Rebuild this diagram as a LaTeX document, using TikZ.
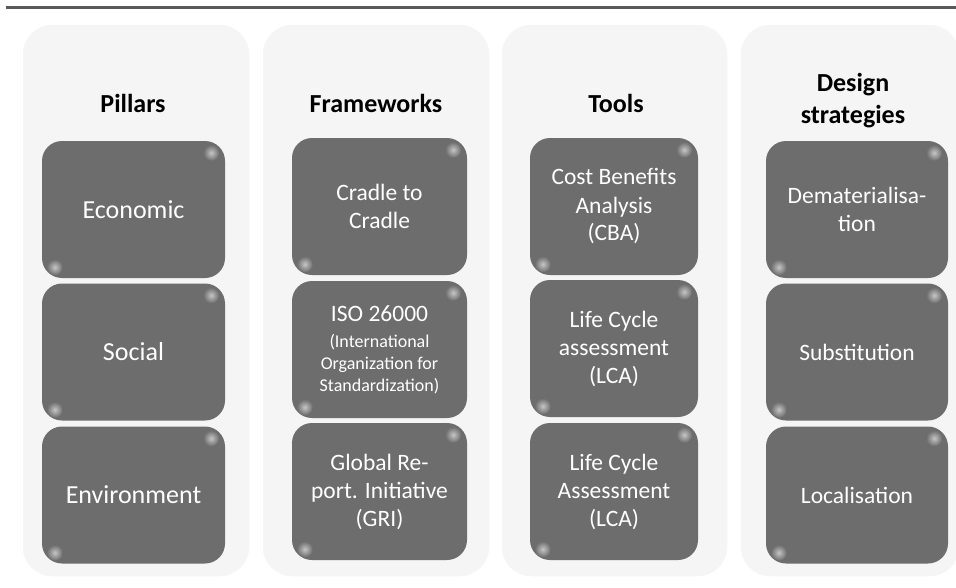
\documentclass[tikz,border=0pt]{standalone}
\usepackage{fontspec}
\setmainfont{Carlito}
\definecolor{colbg}{RGB}{245,245,245}
\definecolor{boxfill}{RGB}{109,109,109}
\definecolor{rulegray}{RGB}{89,89,89}
\begin{document}
\begin{tikzpicture}[x=1pt,y=-1pt,
  colback/.style={fill=colbg, draw=white, line width=1.5pt, rounded corners=30pt, minimum height=553pt, inner sep=0pt},
  darkbox/.style={fill=boxfill, rounded corners=20pt, text=white, align=center, inner sep=0pt, minimum height=137pt, font=\fontsize{23.5}{28}\selectfont},
  bigtxt/.style={font=\fontsize{26}{30}\selectfont},
  smalltxt/.style={font=\fontsize{18}{22}\selectfont},
  title/.style={font=\fontsize{26}{32}\selectfont\bfseries, align=center, inner sep=0pt},
  spot/.style={inner color=gray!45, outer color=boxfill}
]
\useasboundingbox (0,0) rectangle (956,587);
\clip (0,0) rectangle (956,587);
\fill[white] (0,0) rectangle (956,587);
% top rule
\draw[rulegray, line width=3pt] (6,7.7) -- (956,7.7);

% column backgrounds
\node[colback, minimum width=228pt] (bg1) at (136,300.5) {};
\node[colback, minimum width=228pt] (bg2) at (376,300.5) {};
\node[colback, minimum width=227pt] (bg3) at (614.5,300.5) {};
\node[colback, minimum width=220pt] (bg4) at (850,300.5) {};

% titles
\node[title] (t1) at (133,103) {Pillars};
\node[title] (t2) at (376,103) {Frameworks};
\node[title] (t3) at (616,103) {Tools};
\node[title] (t4) at (853,101) {Design\\strategies};

% column 1
\node[darkbox, bigtxt, minimum width=183pt] (c1r1) at (133.5,209.5) {Economic};
\node[darkbox, bigtxt, minimum width=183pt] (c1r2) at (133.5,352) {Social};
\node[darkbox, bigtxt, minimum width=183pt] (c1r3) at (133.5,495) {Environment};

% column 2
\node[darkbox, minimum width=175pt] (c2r1) at (379.5,206.5) {Cradle to\\Cradle};
\node[darkbox, smalltxt, minimum width=175pt] (c2r2) at (379.5,349.5) {\fontsize{23.5}{22}\selectfont ISO 26000\\[4pt]\fontsize{18}{22}\selectfont (International\\Organization for\\Standardization)};
\node[darkbox, minimum width=175pt] (c2r3) at (379.5,491.5) {Global Re-\\port. Initiative\\(GRI)};

% column 3
\node[darkbox, minimum width=168pt] (c3r1) at (614,206.5) {Cost Benefits\\Analysis\\(CBA)};
\node[darkbox, minimum width=168pt] (c3r2) at (614,348.5) {Life Cycle\\assessment\\(LCA)};
\node[darkbox, minimum width=168pt] (c3r3) at (614,491.5) {Life Cycle\\Assessment\\(LCA)};

% column 4
\node[darkbox, minimum width=182pt] (c4r1) at (857,209.5) {Dematerialisa-\\tion};
\node[darkbox, minimum width=182pt] (c4r2) at (857,352) {Substitution};
\node[darkbox, minimum width=182pt] (c4r3) at (857,495) {Localisation};

% glossy corner spots
\foreach \b in {c1r1,c1r2,c1r3,c2r1,c2r2,c2r3,c3r1,c3r2,c3r3,c4r1,c4r2,c4r3}{
  \shade[spot] ([xshift=-14pt,yshift=-12pt]\b.north east) circle (8pt);
  \shade[spot] ([xshift=13pt,yshift=11pt]\b.south west) circle (8pt);
}
\end{tikzpicture}
\end{document}
